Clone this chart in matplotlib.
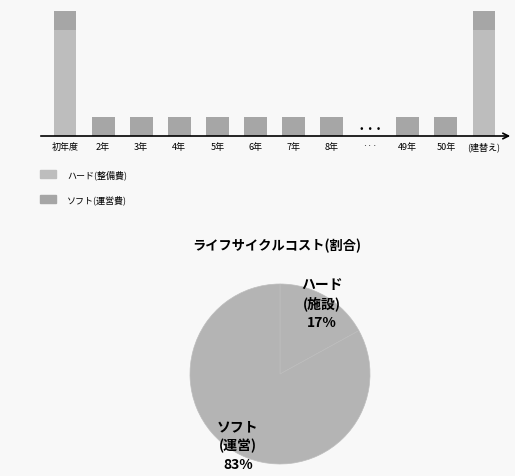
import numpy as np
import matplotlib
matplotlib.use('Agg')
import matplotlib.pyplot as plt
from matplotlib.patches import Patch

plt.rcParams['font.family'] = ['Noto Sans CJK JP', 'DejaVu Sans']

# bar chart data (per year cost, arbitrary units)
categories = ['初年度', '2年', '3年', '4年', '5年', '6年', '7年', '8年',
              '···', '49年', '50年', '(建替え)']
hard_cost = [106, 0, 0, 0, 0, 0, 0, 0, 0, 0, 0, 106]
soft_cost = [19, 19, 19, 19, 19, 19, 19, 19, 0, 19, 19, 19]
legend_labels = ['ハード(整備費)', 'ソフト(運営費)']

# pie chart data
pie_labels = ['ハード\n(施設)\n17%', 'ソフト\n(運営)\n83%']
pie_shares = [17, 83]
pie_title = 'ライフサイクルコスト(割合)'

bg = '#f8f8f8'
hard_color = '#bdbdbd'
soft_color = '#a6a6a6'
pie_color = '#b4b4b4'

W, H = 515, 477
fig = plt.figure(figsize=(W / 100, H / 100), dpi=100, facecolor=bg)

# --- bar chart ---
ax = fig.add_axes([0, (H - 137) / H, 1, 125 / H])
ax.set_facecolor('none')
x = np.arange(len(categories))
px = 38.09  # pixels per category
ax.set_xlim(-65 / px, (W - 65) / px)
ax.set_ylim(0, 125)

hard = np.array(hard_cost)
soft = np.array(soft_cost)
ax.bar(x, hard, width=0.6, color=hard_color)
ax.bar(x, soft, width=0.6, bottom=hard, color=soft_color)

ax.set_xticks(x)
ax.set_xticklabels(categories, fontsize=6.5)
ax.tick_params(axis='x', length=0, pad=4)
ax.set_yticks([])
for s in ax.spines.values():
    s.set_visible(False)

# baseline with arrow
ax.annotate('', xy=((W - 2 - 65) / px, 0), xytext=((38 - 65) / px, 0),
            arrowprops=dict(arrowstyle='->', color='black', lw=1.2),
            annotation_clip=False)
ax.text(8, 3, '•  •  •', ha='center', va='bottom', fontsize=7.5)

# legend
handles = [Patch(color=hard_color), Patch(color=soft_color)]
fig.legend(handles, legend_labels, loc='upper left',
           bbox_to_anchor=(32 / W, 1 - 162 / H), frameon=False,
           fontsize=6.5, handlelength=1.8, handleheight=1.0,
           labelspacing=1.75, handletextpad=1.2)

# --- pie chart ---
cx, cy, r = 280, 375, 90
pax = fig.add_axes([(cx - r) / W, (H - cy - r) / H, 2 * r / W, 2 * r / H])
wedges, texts = pax.pie(pie_shares, labels=pie_labels, colors=[pie_color, pie_color],
                        startangle=90, counterclock=False, labeldistance=0.92,
                        wedgeprops=dict(edgecolor='#bdbdbd', linewidth=0.5),
                        textprops=dict(ha='center', va='center', fontsize=10,
                                       fontweight='bold', linespacing=1.4))
pax.set_xlim(-1, 1)
pax.set_ylim(-1, 1)
pax.set_aspect('equal')

fig.text(277 / W, 1 - 246 / H, pie_title, ha='center', va='center',
         fontsize=9.5, fontweight='bold')

fig.savefig('out.png', dpi=100, facecolor=bg)
